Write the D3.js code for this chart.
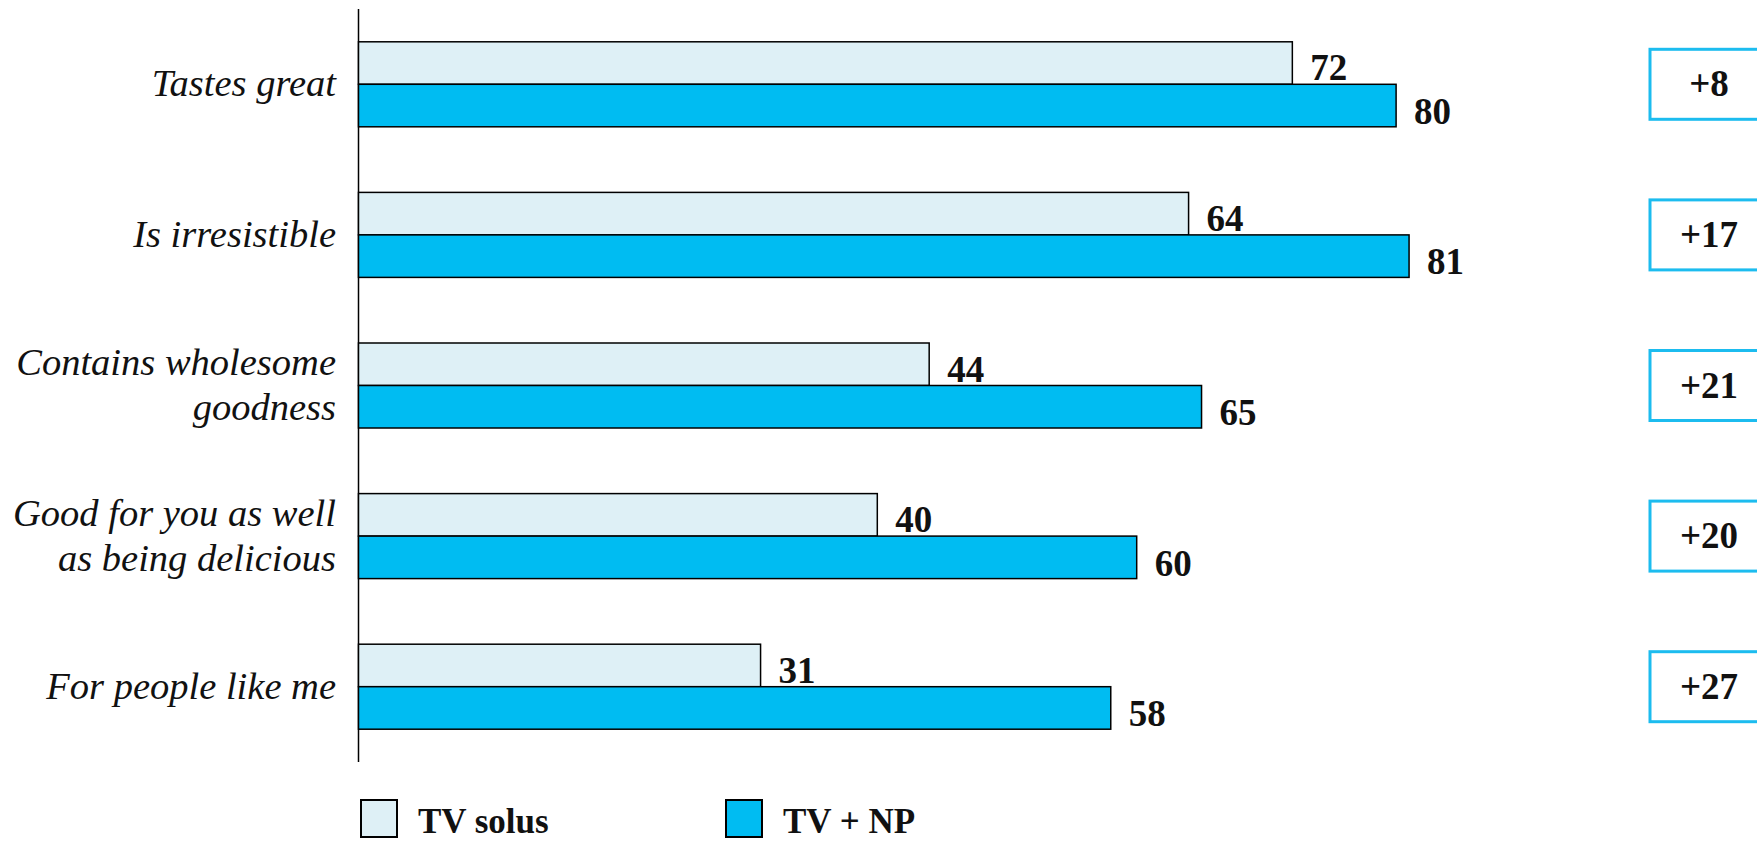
<!DOCTYPE html>
<html lang="en">
<head>
    <meta charset="UTF-8">
    <script src="https://d3js.org/d3.v7.min.js"></script>
    <title>TV solus vs TV + NP</title>
    <style>
        body { margin: 0; background: white; }
        svg { display: block; }
    </style>
</head>
<body>
<div id="chart"></div>
<script>
    // data
    var categories = [
        ["Tastes great"],
        ["Is irresistible"],
        ["Contains wholesome", "goodness"],
        ["Good for you as well", "as being delicious"],
        ["For people like me"]
    ];
    var tvSolus = [72, 64, 44, 40, 31];
    var tvNP = [80, 81, 65, 60, 58];
    var diffs = ["+8", "+17", "+21", "+20", "+27"];
    var seriesNames = ["TV solus", "TV + NP"];

    var canvasWidth = 1757;
    var canvasHeight = 841;
    var lightFill = "#def0f6";
    var darkFill = "#00bcf2";
    var boxColor = "#1cbcef";
    var serif = "'Liberation Serif', 'Times New Roman', serif";

    var svg = d3.select("#chart").append("svg")
        .attr("width", canvasWidth)
        .attr("height", canvasHeight);

    var x0 = 358.5;
    var xScale = d3.scaleLinear().domain([0, 100]).range([x0, x0 + 1297]);
    var yScale = d3.scaleBand()
        .domain(d3.range(categories.length))
        .range([9, 762]);
    var barH = 42.5;
    var groupCenter = function(i) { return yScale(i) + yScale.bandwidth() / 2; };

    // left axis line
    svg.append("line")
        .attr("x1", x0).attr("x2", x0)
        .attr("y1", yScale.range()[0]).attr("y2", yScale.range()[1])
        .attr("stroke", "black").attr("stroke-width", 1.5);

    // category labels, one text per line
    categories.forEach(function(lines, i) {
        var lh = 45;
        var start = groupCenter(i) - (lines.length - 1) * lh / 2 + 12;
        lines.forEach(function(line, j) {
            svg.append("text")
                .attr("class", "cat")
                .attr("x", 336)
                .attr("y", start + j * lh)
                .attr("text-anchor", "end")
                .style("font-family", serif)
                .style("font-style", "italic")
                .style("font-size", "38.5px")
                .attr("fill", "#111")
                .text(line);
        });
    });

    // bars
    var rows = categories.map(function(c, i) { return {i: i, a: tvSolus[i], b: tvNP[i], d: diffs[i]}; });

    svg.selectAll(".barA").data(rows).enter().append("rect")
        .attr("class", "barA")
        .attr("x", xScale(0))
        .attr("y", function(d) { return groupCenter(d.i) - barH; })
        .attr("width", function(d) { return xScale(d.a) - xScale(0); })
        .attr("height", barH)
        .attr("fill", lightFill).attr("stroke", "black").attr("stroke-width", 1.5);

    svg.selectAll(".barB").data(rows).enter().append("rect")
        .attr("class", "barB")
        .attr("x", xScale(0))
        .attr("y", function(d) { return groupCenter(d.i); })
        .attr("width", function(d) { return xScale(d.b) - xScale(0); })
        .attr("height", barH)
        .attr("fill", darkFill).attr("stroke", "black").attr("stroke-width", 1.5);

    // value labels
    var valFont = function(sel, size) {
        sel.style("font-family", serif)
            .style("font-weight", "bold")
            .style("font-size", (size || 37) + "px")
            .attr("fill", "#111");
    };
    svg.selectAll(".valA").data(rows).enter().append("text")
        .attr("class", "valA")
        .attr("x", function(d) { return xScale(d.a) + 18; })
        .attr("y", function(d) { return groupCenter(d.i) - 4; })
        .text(function(d) { return d.a; })
        .call(valFont);
    svg.selectAll(".valB").data(rows).enter().append("text")
        .attr("class", "valB")
        .attr("x", function(d) { return xScale(d.b) + 18; })
        .attr("y", function(d) { return groupCenter(d.i) + barH - 3; })
        .text(function(d) { return d.b; })
        .call(valFont);

    // difference boxes
    svg.selectAll(".dbox").data(rows).enter().append("rect")
        .attr("class", "dbox")
        .attr("x", 1650)
        .attr("y", function(d) { return groupCenter(d.i) - 35; })
        .attr("width", 130)
        .attr("height", 70)
        .attr("fill", "white").attr("stroke", boxColor).attr("stroke-width", 3);
    svg.selectAll(".dtext").data(rows).enter().append("text")
        .attr("class", "dtext")
        .attr("x", 1709)
        .attr("y", function(d) { return groupCenter(d.i) + 12; })
        .attr("text-anchor", "middle")
        .text(function(d) { return d.d; })
        .call(valFont);

    // legend
    var legendX = [361, 726];
    var legend = svg.selectAll(".leg").data(seriesNames).enter().append("g")
        .attr("class", "leg")
        .attr("transform", function(d, i) { return "translate(" + legendX[i] + ", 800)"; });
    legend.append("rect")
        .attr("width", 36).attr("height", 37)
        .attr("fill", function(d, i) { return i === 0 ? lightFill : darkFill; })
        .attr("stroke", "black").attr("stroke-width", 2);
    legend.append("text")
        .attr("x", 57)
        .attr("y", 33)
        .text(function(d) { return d; })
        .call(valFont, 35);
</script>
</body>
</html>
